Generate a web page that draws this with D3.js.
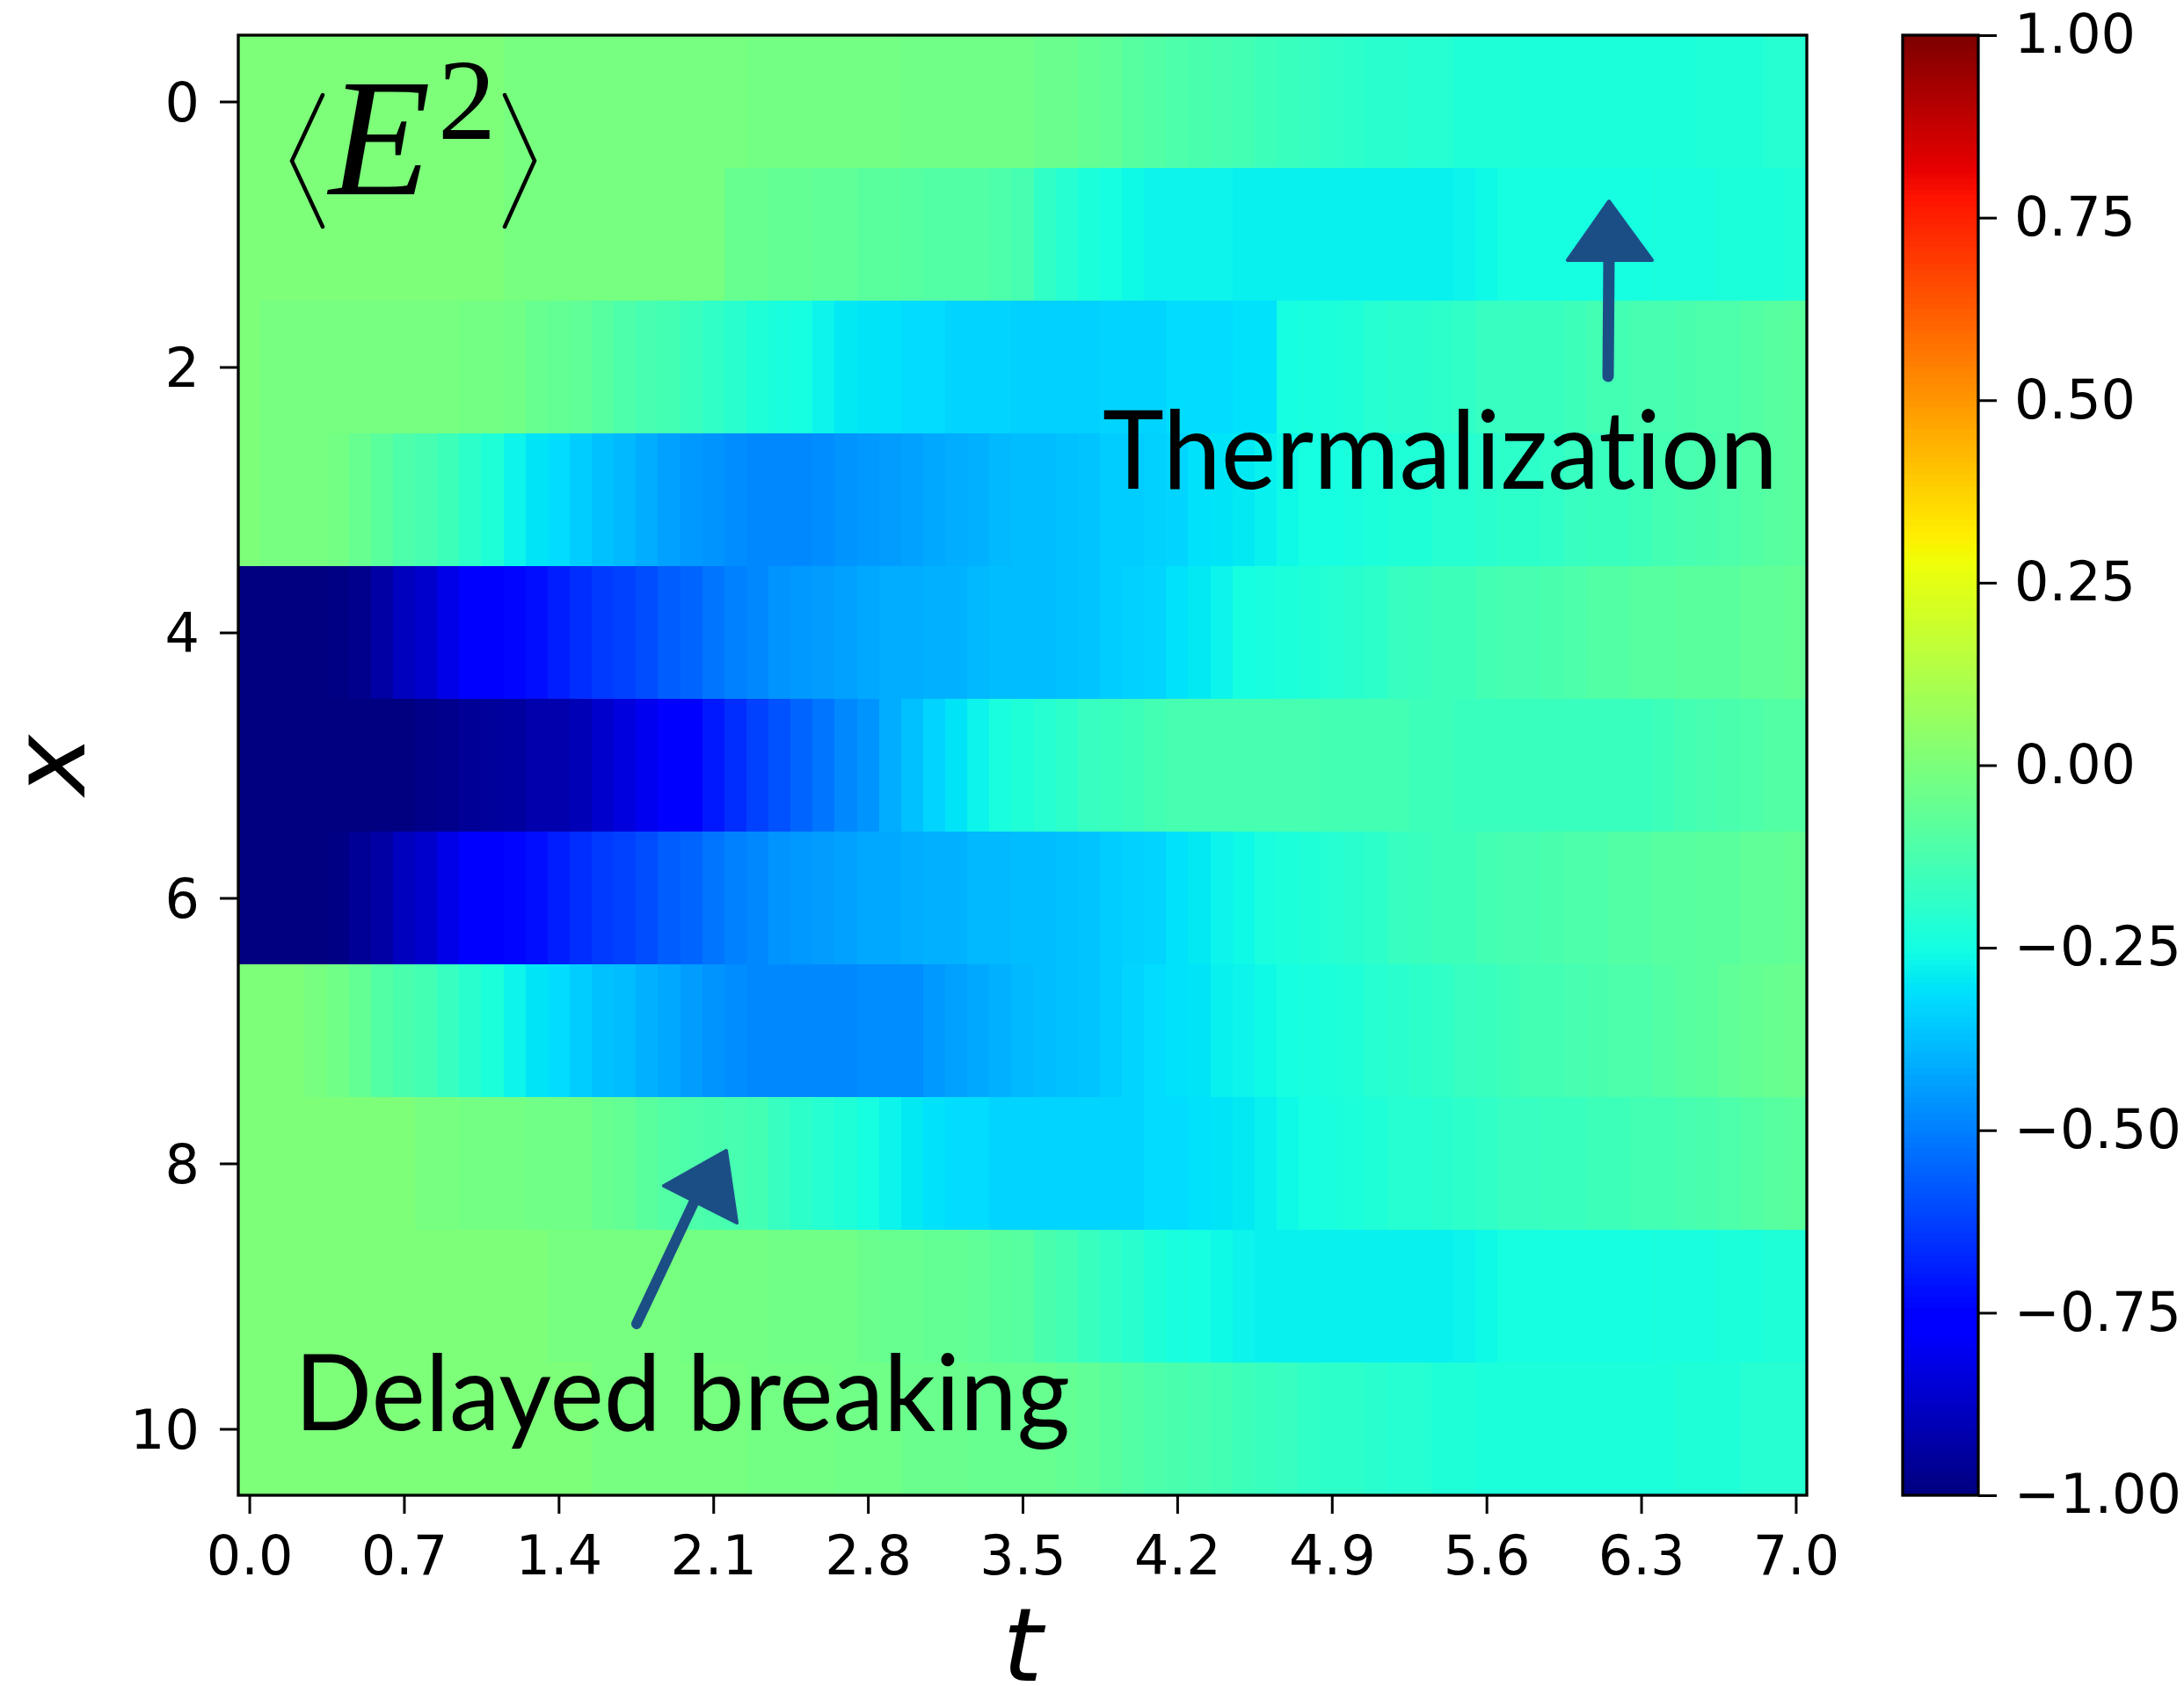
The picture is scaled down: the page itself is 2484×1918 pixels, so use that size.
<!DOCTYPE html>
<html>
<head>
<meta charset="utf-8">
<script src="https://cdn.jsdelivr.net/npm/d3@7"></script>
<style>
  html, body { margin: 0; padding: 0; background: #ffffff; }
  svg { display: block; }
  text { font-variant-ligatures: none; font-feature-settings: "liga" 0, "clig" 0; }
</style>
</head>
<body>
<script>
// Time grid (columns) and lattice sites (rows)
const tGrid = [0.0,0.1,0.2,0.3,0.4,0.5,0.6,0.7,0.8,0.9,1.0,1.1,1.2,1.3,1.4,1.5,1.6,1.7,1.8,1.9,
  2.0,2.1,2.2,2.3,2.4,2.5,2.6,2.7,2.8,2.9,3.0,3.1,3.2,3.3,3.4,3.5,3.6,3.7,3.8,3.9,
  4.0,4.1,4.2,4.3,4.4,4.5,4.6,4.7,4.8,4.9,5.0,5.1,5.2,5.3,5.4,5.5,5.6,5.7,5.8,5.9,
  6.0,6.1,6.2,6.3,6.4,6.5,6.6,6.7,6.8,6.9,7.0];
const sites = [0,1,2,3,4,5,6,7,8,9,10];

// <E^2> (relative to vacuum) for each site, one value per time step
const E2_x0 = [0,0,0,0,0,0,0,0,0,0,
  0,0,-0.01,-0.01,-0.01,-0.01,-0.01,-0.01,-0.01,-0.01,
  -0.01,-0.01,-0.01,-0.02,-0.02,-0.02,-0.02,-0.02,-0.02,-0.02,
  -0.03,-0.03,-0.03,-0.03,-0.03,-0.03,-0.04,-0.04,-0.06,-0.07,
  -0.09,-0.10,-0.11,-0.12,-0.13,-0.14,-0.15,-0.16,-0.17,-0.18,
  -0.19,-0.20,-0.20,-0.21,-0.21,-0.22,-0.22,-0.22,-0.23,-0.23,
  -0.23,-0.23,-0.23,-0.23,-0.23,-0.23,-0.22,-0.22,-0.22,-0.21,
  -0.21];
const E2_x1 = [0,0,0,0,0,0,0,0,0,0,
  0,0,-0.01,-0.01,-0.01,-0.01,-0.01,-0.01,-0.01,-0.01,
  -0.01,-0.01,-0.05,-0.05,-0.06,-0.06,-0.07,-0.07,-0.08,-0.08,
  -0.09,-0.10,-0.10,-0.10,-0.11,-0.13,-0.18,-0.21,-0.23,-0.25,
  -0.26,-0.27,-0.27,-0.27,-0.27,-0.28,-0.28,-0.28,-0.28,-0.28,
  -0.28,-0.28,-0.28,-0.28,-0.28,-0.27,-0.26,-0.25,-0.25,-0.25,
  -0.25,-0.25,-0.25,-0.25,-0.24,-0.24,-0.24,-0.23,-0.23,-0.23,
  -0.22];
const E2_x2 = [0,-0.01,-0.01,-0.01,-0.01,-0.01,-0.01,-0.01,-0.01,-0.01,
  -0.02,-0.02,-0.03,-0.05,-0.06,-0.07,-0.09,-0.11,-0.13,-0.14,
  -0.16,-0.18,-0.20,-0.22,-0.24,-0.25,-0.27,-0.29,-0.30,-0.31,
  -0.32,-0.32,-0.33,-0.33,-0.33,-0.34,-0.34,-0.34,-0.34,-0.33,
  -0.33,-0.33,-0.32,-0.32,-0.32,-0.31,-0.31,-0.25,-0.24,-0.23,
  -0.22,-0.21,-0.20,-0.20,-0.19,-0.18,-0.17,-0.17,-0.16,-0.16,
  -0.15,-0.14,-0.14,-0.13,-0.13,-0.12,-0.11,-0.11,-0.10,-0.09,
  -0.08];
const E2_x3 = [0,-0.01,-0.01,-0.01,-0.02,-0.05,-0.08,-0.11,-0.13,-0.15,
  -0.19,-0.22,-0.27,-0.30,-0.32,-0.35,-0.37,-0.39,-0.41,-0.43,
  -0.45,-0.46,-0.47,-0.48,-0.48,-0.48,-0.47,-0.46,-0.45,-0.44,
  -0.43,-0.42,-0.41,-0.40,-0.39,-0.38,-0.38,-0.37,-0.36,-0.35,
  -0.35,-0.34,-0.33,-0.31,-0.30,-0.29,-0.28,-0.26,-0.25,-0.25,
  -0.24,-0.23,-0.22,-0.22,-0.21,-0.21,-0.20,-0.19,-0.19,-0.18,
  -0.17,-0.16,-0.16,-0.15,-0.14,-0.13,-0.12,-0.11,-0.10,-0.09,
  -0.08];
const E2_x4 = [-1,-1,-1,-1,-0.99,-0.97,-0.93,-0.89,-0.86,-0.82,
  -0.78,-0.75,-0.74,-0.72,-0.69,-0.66,-0.64,-0.62,-0.60,-0.57,
  -0.55,-0.52,-0.50,-0.48,-0.46,-0.45,-0.44,-0.43,-0.42,-0.41,
  -0.41,-0.40,-0.40,-0.39,-0.38,-0.38,-0.38,-0.37,-0.36,-0.35,
  -0.34,-0.33,-0.31,-0.29,-0.27,-0.25,-0.24,-0.23,-0.22,-0.21,
  -0.20,-0.19,-0.17,-0.16,-0.15,-0.15,-0.14,-0.13,-0.13,-0.12,
  -0.11,-0.10,-0.10,-0.09,-0.09,-0.08,-0.08,-0.08,-0.07,-0.07,
  -0.06];
const E2_x5 = [-1,-1,-1,-1,-1,-1,-1,-1,-0.98,-0.97,
  -0.96,-0.95,-0.94,-0.92,-0.92,-0.90,-0.86,-0.83,-0.80,-0.76,
  -0.75,-0.70,-0.66,-0.62,-0.59,-0.55,-0.52,-0.48,-0.46,-0.41,
  -0.37,-0.33,-0.30,-0.27,-0.24,-0.22,-0.21,-0.19,-0.17,-0.16,
  -0.15,-0.14,-0.13,-0.13,-0.13,-0.13,-0.13,-0.13,-0.13,-0.14,
  -0.14,-0.14,-0.14,-0.15,-0.15,-0.16,-0.16,-0.16,-0.16,-0.16,
  -0.16,-0.16,-0.16,-0.16,-0.15,-0.14,-0.13,-0.12,-0.11,-0.10,
  -0.10];
const E2_x6 = [-1,-1,-1,-1,-0.99,-0.96,-0.93,-0.89,-0.86,-0.82,
  -0.78,-0.75,-0.74,-0.72,-0.69,-0.66,-0.64,-0.62,-0.60,-0.57,
  -0.55,-0.52,-0.50,-0.48,-0.46,-0.45,-0.44,-0.43,-0.42,-0.42,
  -0.41,-0.40,-0.40,-0.39,-0.39,-0.38,-0.38,-0.37,-0.36,-0.35,
  -0.34,-0.33,-0.31,-0.29,-0.27,-0.26,-0.24,-0.23,-0.22,-0.21,
  -0.20,-0.19,-0.17,-0.16,-0.15,-0.15,-0.14,-0.13,-0.13,-0.12,
  -0.11,-0.11,-0.10,-0.10,-0.09,-0.09,-0.08,-0.08,-0.07,-0.07,
  -0.06];
const E2_x7 = [0,0,0,-0.01,-0.03,-0.06,-0.10,-0.12,-0.14,-0.17,
  -0.20,-0.23,-0.27,-0.30,-0.32,-0.35,-0.37,-0.38,-0.40,-0.42,
  -0.44,-0.46,-0.47,-0.48,-0.48,-0.48,-0.48,-0.48,-0.47,-0.47,
  -0.47,-0.45,-0.43,-0.42,-0.40,-0.39,-0.38,-0.37,-0.36,-0.35,
  -0.33,-0.32,-0.31,-0.30,-0.28,-0.27,-0.26,-0.25,-0.24,-0.23,
  -0.22,-0.21,-0.20,-0.19,-0.18,-0.17,-0.16,-0.15,-0.14,-0.14,
  -0.13,-0.12,-0.11,-0.11,-0.10,-0.09,-0.08,-0.07,-0.06,-0.05,
  -0.04];
const E2_x8 = [0,0,0,0,0,0,0,0,-0.01,-0.01,
  -0.02,-0.02,-0.02,-0.03,-0.03,-0.03,-0.05,-0.06,-0.08,-0.10,
  -0.11,-0.12,-0.13,-0.14,-0.17,-0.19,-0.21,-0.22,-0.25,-0.27,
  -0.29,-0.31,-0.32,-0.32,-0.33,-0.33,-0.33,-0.33,-0.33,-0.33,
  -0.33,-0.32,-0.32,-0.31,-0.30,-0.29,-0.28,-0.26,-0.25,-0.24,
  -0.23,-0.22,-0.21,-0.21,-0.20,-0.19,-0.18,-0.17,-0.17,-0.16,
  -0.16,-0.15,-0.15,-0.14,-0.14,-0.13,-0.12,-0.11,-0.10,-0.09,
  -0.08];
const E2_x9 = [0,0,0,0,0,0,0,0,0,0,
  0,0,0,0,-0.01,-0.01,-0.01,-0.01,-0.01,-0.01,
  -0.02,-0.02,-0.02,-0.02,-0.03,-0.03,-0.03,-0.03,-0.04,-0.05,
  -0.05,-0.06,-0.06,-0.07,-0.08,-0.09,-0.12,-0.14,-0.16,-0.18,
  -0.20,-0.22,-0.24,-0.25,-0.26,-0.27,-0.28,-0.28,-0.28,-0.28,
  -0.28,-0.28,-0.28,-0.28,-0.28,-0.27,-0.26,-0.25,-0.25,-0.25,
  -0.25,-0.25,-0.25,-0.25,-0.24,-0.24,-0.24,-0.23,-0.23,-0.22,
  -0.22];
const E2_x10 = [0,0,0,0,0,0,0,0,0,0,
  0,0,0,0,0,0,-0.01,-0.01,-0.01,-0.01,
  -0.01,-0.01,-0.01,-0.02,-0.02,-0.02,-0.02,-0.03,-0.03,-0.03,
  -0.04,-0.04,-0.04,-0.05,-0.05,-0.05,-0.05,-0.06,-0.07,-0.08,
  -0.10,-0.11,-0.12,-0.13,-0.14,-0.15,-0.16,-0.17,-0.18,-0.19,
  -0.19,-0.20,-0.21,-0.21,-0.22,-0.22,-0.23,-0.23,-0.23,-0.23,
  -0.23,-0.23,-0.23,-0.23,-0.23,-0.22,-0.22,-0.22,-0.21,-0.21,
  -0.21];

// Tick labels
const tTicks = [0.0, 0.7, 1.4, 2.1, 2.8, 3.5, 4.2, 4.9, 5.6, 6.3, 7.0];
const xTicks = [0, 2, 4, 6, 8, 10];
const cbarTicks = [-1.0, -0.75, -0.5, -0.25, 0.0, 0.25, 0.5, 0.75, 1.0];

const rows = [E2_x0, E2_x1, E2_x2, E2_x3, E2_x4, E2_x5, E2_x6, E2_x7, E2_x8, E2_x9, E2_x10];

// ---------- layout ----------
const W = 2484, H = 1918;
const plot = { left: 271, right: 2055, top: 40, bottom: 1701 };
const cbar = { left: 2164, right: 2250 };
const dt = 0.1;
const tickFont = "'DejaVu Sans', sans-serif";
const tickSize = 62;

// ---------- jet colormap (256-entry lookup) ----------
const jetR = d3.scaleLinear().domain([0, 0.35, 0.66, 0.89, 1]).range([0, 0, 1, 1, 0.5]);
const jetG = d3.scaleLinear().domain([0, 0.125, 0.375, 0.64, 0.91, 1]).range([0, 0, 1, 1, 0, 0]);
const jetB = d3.scaleLinear().domain([0, 0.11, 0.34, 0.65, 1]).range([0.5, 1, 1, 0, 0]);
function jet(n) {
  const i = Math.min(255, Math.max(0, Math.floor(n * 256)));
  const x = i / 255;
  return d3.rgb(Math.round(255 * jetR(x)), Math.round(255 * jetG(x)), Math.round(255 * jetB(x))).formatHex();
}
const norm = d3.scaleLinear().domain([-1, 1]).range([0, 1]).clamp(true);
const color = v => jet(norm(v));

// ---------- scales ----------
const xScale = d3.scaleLinear().domain([tGrid[0] - dt / 2, tGrid[tGrid.length - 1] + dt / 2]).range([plot.left, plot.right]);
const yScale = d3.scaleLinear().domain([-0.5, 10.5]).range([plot.top, plot.bottom]);
const cScale = d3.scaleLinear().domain([-1, 1]).range([plot.bottom, plot.top]);

const svg = d3.select("body").append("svg").attr("width", W).attr("height", H)
  .attr("viewBox", `0 0 ${W} ${H}`);

// ---------- heatmap cells ----------
const cells = [];
rows.forEach((vals, r) => vals.forEach((v, c) => cells.push({ site: sites[r], t: tGrid[c], v })));
svg.append("g").attr("shape-rendering", "crispEdges")
  .selectAll("rect").data(cells).join("rect")
  .attr("x", d => xScale(d.t - dt / 2))
  .attr("y", d => yScale(d.site - 0.5))
  .attr("width", d => xScale(d.t + dt / 2) - xScale(d.t - dt / 2) + 0.6)
  .attr("height", d => yScale(d.site + 0.5) - yScale(d.site - 0.5) + 0.6)
  .attr("fill", d => color(d.v));

// ---------- annotations inside the plot ----------
const annot = svg.append("g");
const arrowColor = "#1c4e86";

// <E^2> label: angle brackets, italic E, superscript 2
const bracket = d3.line();
annot.append("path").attr("d", bracket([[367, 108], [332, 183], [367, 258]]))
  .attr("fill", "none").attr("stroke", "#000").attr("stroke-width", 4.5).attr("stroke-linecap", "round").attr("stroke-linejoin", "miter");
annot.append("path").attr("d", bracket([[574, 108], [608, 183], [574, 258]]))
  .attr("fill", "none").attr("stroke", "#000").attr("stroke-width", 4.5).attr("stroke-linecap", "round").attr("stroke-linejoin", "miter");
annot.append("text").attr("x", 374).attr("y", 221)
  .attr("font-family", "'Liberation Serif', 'DejaVu Serif', serif").attr("font-style", "italic")
  .attr("font-size", 190).attr("textLength", 116).attr("lengthAdjust", "spacingAndGlyphs")
  .attr("fill", "#000").text("E");
annot.append("text").attr("x", 498).attr("y", 158)
  .attr("font-family", "'Liberation Serif', 'DejaVu Serif', serif")
  .attr("font-size", 132).attr("fill", "#000").text("2");

// Thermalization label and arrow
annot.append("text").attr("x", 1254).attr("y", 556)
  .attr("font-family", "Lato, 'Open Sans', sans-serif").attr("font-size", 124)
  .attr("textLength", 768).attr("lengthAdjust", "spacingAndGlyphs")
  .attr("fill", "#000").text("Thermalization");
annot.append("path").attr("d", d3.line()([[1829, 428], [1830, 290]]))
  .attr("stroke", arrowColor).attr("stroke-width", 13).attr("stroke-linecap", "round").attr("fill", "none");
annot.append("path").attr("d", d3.line()([[1830, 229], [1783, 296], [1879, 296]]) + "Z")
  .attr("fill", arrowColor).attr("stroke", arrowColor).attr("stroke-width", 4).attr("stroke-linejoin", "round");

// Delayed breaking label and arrow
annot.append("text").attr("x", 335).attr("y", 1627)
  .attr("font-family", "Lato, 'Open Sans', sans-serif").attr("font-size", 121)
  .attr("textLength", 882).attr("lengthAdjust", "spacingAndGlyphs")
  .attr("fill", "#000").text("Delayed breaking");
annot.append("path").attr("d", d3.line()([[724, 1506], [790, 1366]]))
  .attr("stroke", arrowColor).attr("stroke-width", 12).attr("stroke-linecap", "round").attr("fill", "none");
annot.append("path").attr("d", d3.line()([[826, 1309], [755, 1349], [838, 1391]]) + "Z")
  .attr("fill", arrowColor).attr("stroke", arrowColor).attr("stroke-width", 4).attr("stroke-linejoin", "round");

// ---------- axes ----------
function styleAxis(g) {
  g.select(".domain").remove();
  g.selectAll(".tick line").attr("stroke", "#000").attr("stroke-width", 3);
  g.selectAll(".tick text").attr("font-family", tickFont).attr("font-size", tickSize).attr("fill", "#000");
}

svg.append("g").attr("transform", `translate(0,${plot.bottom})`)
  .call(d3.axisBottom(xScale).tickValues(tTicks).tickFormat(d3.format(".1f")).tickSize(21).tickPadding(25))
  .call(styleAxis);

svg.append("g").attr("transform", `translate(${plot.left},0)`)
  .call(d3.axisLeft(yScale).tickValues(xTicks).tickFormat(d3.format("d")).tickSize(21).tickPadding(23))
  .call(styleAxis)
  .selectAll(".tick text").attr("dy", "0.36em");

// plot frame
svg.append("rect").attr("x", plot.left).attr("y", plot.top)
  .attr("width", plot.right - plot.left).attr("height", plot.bottom - plot.top)
  .attr("fill", "none").attr("stroke", "#000").attr("stroke-width", 3.3);

// axis titles
svg.append("text").attr("transform", `translate(96,${(plot.top + plot.bottom) / 2}) rotate(-90)`)
  .attr("text-anchor", "middle").attr("font-family", tickFont).attr("font-style", "italic")
  .attr("font-size", 116).attr("fill", "#000").text("x");
svg.append("text").attr("x", (plot.left + plot.right) / 2).attr("y", 1912)
  .attr("text-anchor", "middle").attr("font-family", tickFont).attr("font-style", "italic")
  .attr("font-size", 116).attr("fill", "#000").text("t");

// ---------- colorbar ----------
const cbSteps = d3.range(256).map(i => -1 + (2 * i) / 256);
svg.append("g").attr("shape-rendering", "crispEdges")
  .selectAll("rect").data(cbSteps).join("rect")
  .attr("x", cbar.left).attr("width", cbar.right - cbar.left)
  .attr("y", d => cScale(d + 2 / 256))
  .attr("height", d => cScale(d) - cScale(d + 2 / 256) + 0.8)
  .attr("fill", d => color(d + 1 / 256));

svg.append("g").attr("transform", `translate(${cbar.right},0)`)
  .call(d3.axisRight(cScale).tickValues(cbarTicks).tickFormat(d3.format(".2f")).tickSize(21).tickPadding(20))
  .call(styleAxis);

svg.append("rect").attr("x", cbar.left).attr("y", plot.top)
  .attr("width", cbar.right - cbar.left).attr("height", plot.bottom - plot.top)
  .attr("fill", "none").attr("stroke", "#000").attr("stroke-width", 3.3);
</script>
</body>
</html>
